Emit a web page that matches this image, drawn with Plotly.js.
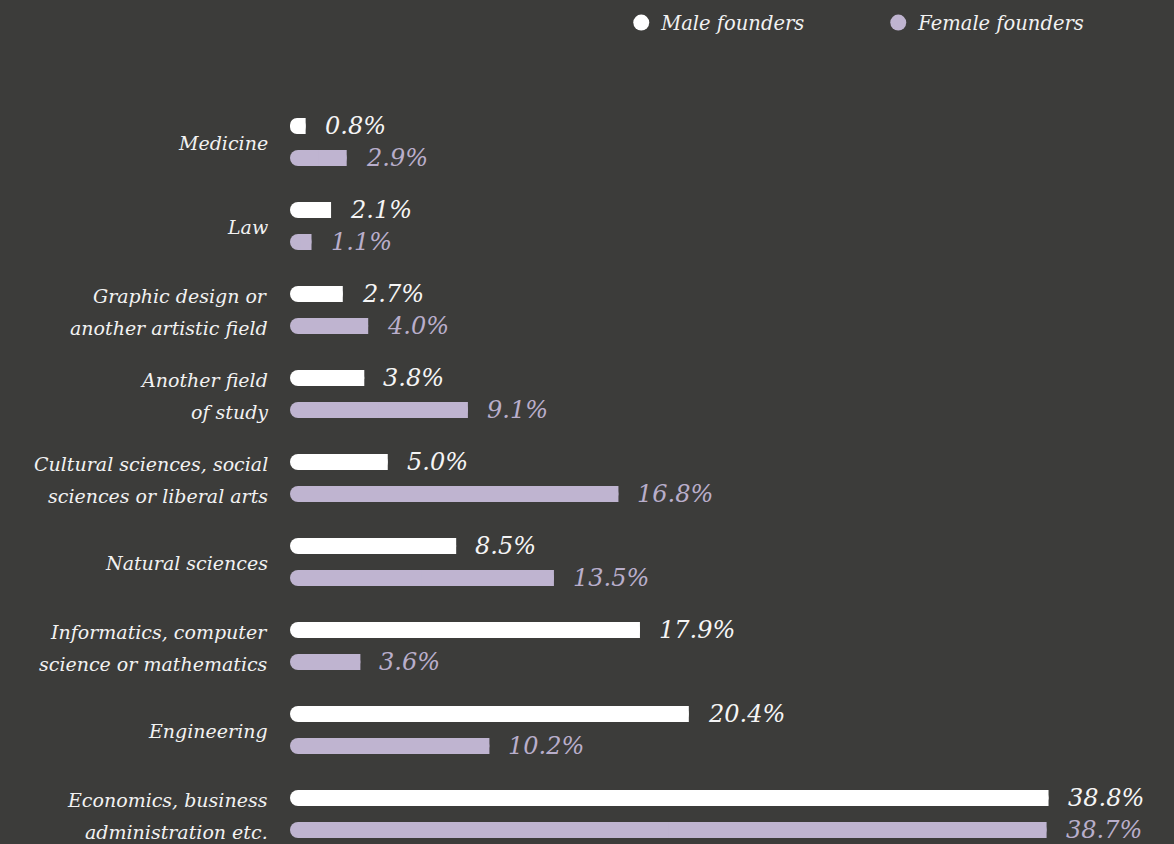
<!DOCTYPE html>
<html><head><meta charset="utf-8">
<script src="https://cdn.plot.ly/plotly-3.0.1.min.js"></script>
<style>html,body{margin:0;padding:0;background:#3c3c3a;}#chart{width:1174px;height:844px;}</style>
</head><body><div id="chart"></div>
<script>
const categories = [
  "Medicine",
  "Law",
  "Graphic design or<br>another artistic field",
  "Another field<br>of study",
  "Cultural sciences, social<br>sciences or liberal arts",
  "Natural sciences",
  "Informatics, computer<br>science or mathematics",
  "Engineering",
  "Economics, business<br>administration etc."
];
const maleValues = [0.8, 2.1, 2.7, 3.8, 5.0, 8.5, 17.9, 20.4, 38.8];
const femaleValues = [2.9, 1.1, 4.0, 9.1, 16.8, 13.5, 3.6, 10.2, 38.7];
const seriesNames = ["Male founders", "Female founders"];

const BG = "#3c3c3a";
const MALE = "#ffffff";
const FEMALE = "#bfb4d0";
const FEMALE_TEXT = "#b9aecb";
const FONT = "DejaVu Serif";

// pill-shaped bar (floating base rounds every corner)
function roundedBar(vals, color, name, grp) {
  return {
    type: "bar", orientation: "h", name: name, offsetgroup: grp,
    y: categories, x: vals.map(v => -v), base: vals,
    marker: {color: color, cornerradius: 8, line: {width: 0}},
    showlegend: false, hoverinfo: "skip"
  };
}
// square right end drawn over the right half
function flatEnd(vals, color, name, grp) {
  return {
    type: "bar", orientation: "h", name: name, offsetgroup: grp,
    y: categories, x: vals.map(v => v / 2), base: vals.map(v => v / 2),
    marker: {color: color, line: {width: 0}},
    showlegend: false, hoverinfo: "skip"
  };
}
const data = [
  roundedBar(maleValues, MALE, seriesNames[0], "m"),
  flatEnd(maleValues, MALE, seriesNames[0], "m"),
  roundedBar(femaleValues, FEMALE, seriesNames[1], "f"),
  flatEnd(femaleValues, FEMALE, seriesNames[1], "f"),
  {type: "scatter", mode: "markers", x: [null], y: [null], name: seriesNames[0],
   marker: {color: MALE, size: 18, symbol: "circle"}},
  {type: "scatter", mode: "markers", x: [null], y: [null], name: seriesNames[1],
   marker: {color: FEMALE, size: 18, symbol: "circle"}}
];

const annotations = [];
categories.forEach((c, i) => {
  const lines = c.split("<br>");
  const shifts = lines.length === 2 ? [14, -18] : [-1];
  lines.forEach((ln, k) => {
    annotations.push({x: 0, y: c, xref: "x", yref: "y", text: ln, showarrow: false,
      xanchor: "right", yanchor: "middle", xshift: -20, yshift: shifts[k],
      font: {family: FONT, size: 19, color: "#f2f2f2", style: "italic"}});
  });
  annotations.push({x: maleValues[i], y: c, xref: "x", yref: "y",
    text: maleValues[i].toFixed(1) + "%", showarrow: false, xanchor: "left", yanchor: "middle",
    xshift: 17, yshift: 16, font: {family: FONT, size: 24, color: "#f5f5f5", style: "italic"}});
  annotations.push({x: femaleValues[i], y: c, xref: "x", yref: "y",
    text: femaleValues[i].toFixed(1) + "%", showarrow: false, xanchor: "left", yanchor: "middle",
    xshift: 17, yshift: -16, font: {family: FONT, size: 24, color: FEMALE_TEXT, style: "italic"}});
});

const layout = {
  width: 1174, height: 844,
  paper_bgcolor: BG, plot_bgcolor: BG,
  margin: {l: 290, r: 102, t: 100, b: 0},
  barmode: "group", bargap: 20 / 84, bargroupgap: 0.5,
  xaxis: {range: [0, 40], showgrid: false, zeroline: false, showticklabels: false, showline: false, fixedrange: true},
  yaxis: {type: "category", range: [-0.5 + 744 / 84, -0.5], showgrid: false, zeroline: false,
          showticklabels: false, showline: false, ticks: ""},
  showlegend: true,
  legend: {orientation: "h", xref: "container", yref: "container", x: 0.967, xanchor: "right",
           y: 0.996, yanchor: "top", bgcolor: "rgba(0,0,0,0)",
           font: {family: FONT, size: 19.5, color: "#f2f2f2", style: "italic"},
           itemwidth: 30, entrywidth: 212, entrywidthmode: "pixels"},
  annotations: annotations
};
Plotly.newPlot("chart", data, layout, {displayModeBar: false, staticPlot: true});
</script></body></html>
